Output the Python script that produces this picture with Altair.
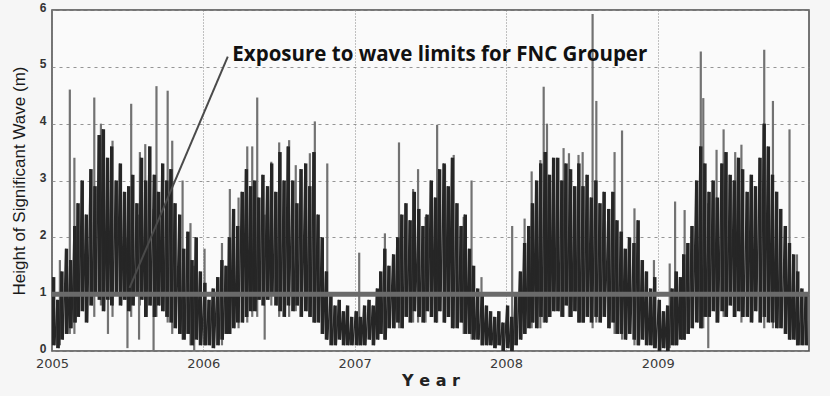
import altair as alt
import pandas as pd

# Significant wave height, 2005-2009: low/high envelope of the record for each ~10-day bin
# (three bins per month, twelve months per year)
bin_days = [5, 15, 25]

hi_2005 = [1.3, 0.9, 1.4, 1.8, 1.6, 2.2, 2.6, 3.0, 2.4, 3.2, 2.9, 3.8,
           3.9, 3.4, 3.6, 3.0, 3.3, 2.8, 2.9, 3.1, 2.6, 3.4, 3.0, 3.6,
           3.1, 2.8, 3.3, 3.0, 3.2, 2.6, 2.4, 1.8, 2.1, 1.6, 2.0, 1.4]
lo_2005 = [0.1, 0.05, 0.2, 0.3, 0.4, 0.5, 0.6, 0.7, 0.5, 0.8, 1.0, 0.9,
           0.7, 0.9, 0.8, 1.0, 0.8, 0.9, 0.7, 0.8, 1.0, 0.9, 0.6, 0.8,
           0.6, 0.8, 0.7, 0.6, 0.5, 0.4, 0.3, 0.2, 0.3, 0.1, 0.2, 0.1]

hi_2006 = [1.2, 0.9, 1.1, 1.3, 1.6, 1.5, 2.0, 2.5, 2.2, 2.8, 3.2, 2.9,
           3.0, 2.7, 3.1, 2.9, 3.3, 2.8, 3.5, 3.0, 3.6, 3.0, 2.6, 3.2,
           3.3, 2.9, 3.5, 2.4, 2.0, 1.4, 1.0, 0.8, 0.9, 0.7, 0.8, 0.6]
lo_2006 = [0.1, 0.1, 0.05, 0.1, 0.2, 0.3, 0.3, 0.4, 0.5, 0.5, 0.6, 0.7,
           0.7, 0.9, 0.8, 0.9, 1.0, 0.8, 0.7, 0.6, 0.8, 0.7, 0.8, 0.6,
           0.7, 0.6, 0.5, 0.5, 0.3, 0.2, 0.1, 0.1, 0.2, 0.1, 0.1, 0.1]

hi_2007 = [0.7, 0.6, 0.8, 0.9, 0.8, 1.1, 1.4, 1.8, 1.5, 1.7, 2.0, 2.4,
           2.6, 2.3, 2.8, 2.5, 2.2, 2.4, 3.0, 2.7, 3.2, 3.3, 2.9, 3.4,
           2.6, 2.2, 2.4, 1.8, 1.5, 1.1, 1.0, 0.8, 0.7, 0.6, 0.7, 0.5]
lo_2007 = [0.1, 0.1, 0.1, 0.2, 0.1, 0.2, 0.3, 0.2, 0.4, 0.4, 0.5, 0.4,
           0.6, 0.5, 0.7, 0.6, 0.5, 0.7, 0.6, 0.5, 0.7, 0.5, 0.6, 0.4,
           0.4, 0.5, 0.3, 0.3, 0.2, 0.2, 0.1, 0.1, 0.1, 0.05, 0.1, 0.0]

hi_2008 = [0.8, 0.6, 1.0, 1.4, 1.9, 2.2, 2.6, 3.0, 3.3, 3.5, 3.1, 3.4,
           3.4, 3.0, 3.3, 3.2, 2.9, 3.3, 2.9, 3.1, 2.7, 3.0, 2.6, 2.8,
           2.5, 2.8, 2.3, 2.1, 1.8, 2.0, 1.9, 2.3, 1.6, 1.4, 1.1, 1.3]
lo_2008 = [0.05, 0.0, 0.1, 0.2, 0.3, 0.4, 0.5, 0.4, 0.6, 0.5, 0.6, 0.7,
           0.7, 0.6, 0.8, 0.6, 0.7, 0.5, 0.5, 0.6, 0.5, 0.6, 0.5, 0.6,
           0.4, 0.5, 0.3, 0.3, 0.2, 0.3, 0.2, 0.1, 0.2, 0.1, 0.1, 0.05]

hi_2009 = [0.9, 0.7, 0.8, 1.1, 1.4, 1.3, 1.7, 1.9, 2.2, 3.0, 3.6, 3.3,
           2.8, 3.0, 2.7, 3.3, 3.5, 3.1, 3.0, 3.4, 3.2, 2.8, 3.1, 2.9,
           3.4, 4.0, 3.6, 3.1, 2.8, 2.5, 2.2, 1.9, 1.7, 1.4, 1.1, 1.0]
lo_2009 = [0.0, 0.05, 0.0, 0.1, 0.1, 0.2, 0.2, 0.3, 0.4, 0.5, 0.4, 0.6,
           0.6, 0.7, 0.5, 0.7, 0.6, 0.8, 0.6, 0.7, 0.6, 0.6, 0.5, 0.7,
           0.5, 0.6, 0.5, 0.5, 0.4, 0.4, 0.3, 0.2, 0.2, 0.1, 0.1, 0.1]

envelope = {
    2005: (lo_2005, hi_2005),
    2006: (lo_2006, hi_2006),
    2007: (lo_2007, hi_2007),
    2008: (lo_2008, hi_2008),
    2009: (lo_2009, hi_2009),
}

# Individual storm peaks (and calm troughs) that stand out from the envelope
spike_dates = [
    "2005-01-20", "2005-02-13", "2005-02-24", "2005-04-13", "2005-04-29", "2005-05-16",
    "2005-05-27", "2005-07-02", "2005-07-11", "2005-07-30", "2005-08-01", "2005-08-14",
    "2005-09-03", "2005-09-10", "2005-10-07", "2005-10-18", "2005-11-12", "2005-12-01",
    "2005-12-10", "2006-01-04", "2006-02-15", "2006-03-06", "2006-03-27", "2006-04-17",
    "2006-04-29", "2006-05-11", "2006-05-29", "2006-06-14", "2006-07-03", "2006-07-27",
    "2006-08-12", "2006-09-15", "2006-09-27", "2006-10-27", "2007-01-12", "2007-03-15",
    "2007-04-18", "2007-05-22", "2007-06-03", "2007-06-21", "2007-07-19", "2007-08-07",
    "2007-08-28", "2007-09-21", "2007-10-10", "2007-11-03", "2008-01-16", "2008-02-15",
    "2008-03-03", "2008-03-24", "2008-04-01", "2008-04-09", "2008-05-19", "2008-06-01",
    "2008-06-24", "2008-07-04", "2008-07-28", "2008-08-06", "2008-09-19", "2008-10-07",
    "2008-11-06", "2008-11-15", "2008-12-23", "2009-01-30", "2009-02-12", "2009-03-07",
    "2009-04-15", "2009-04-21", "2009-05-03", "2009-05-23", "2009-06-09", "2009-07-07",
    "2009-07-22", "2009-09-15", "2009-10-06", "2009-11-15", "2009-12-03",
]
spike_lo = [
    0.1, 0.3, 0.3, 0.6, 0.8, 0.3,
    0.6, 0.05, 0.6, 0.2, 0.8, 0.7,
    0.0, 0.6, 0.5, 0.3, 0.2, 0.1,
    0.0, 0.1, 0.1, 0.3, 0.4, 0.5,
    0.6, 0.6, 0.2, 0.8, 0.6, 0.6,
    0.7, 0.6, 0.5, 0.2, 0.1, 0.2,
    0.4, 0.5, 0.5, 0.5, 0.5, 0.5,
    0.4, 0.3, 0.2, 0.1, 0.05, 0.3,
    0.4, 0.4, 0.5, 0.5, 0.6, 0.6,
    0.5, 0.5, 0.4, 0.5, 0.3, 0.2,
    0.1, 0.1, 0.05, 0.05, 0.1, 0.2,
    0.4, 0.4, 0.05, 0.5, 0.6, 0.6,
    0.5, 0.4, 0.4, 0.2, 0.1,
]
spike_hi = [
    1.6, 4.6, 3.4, 4.46, 4.0, 2.5,
    3.7, 2.0, 4.35, 2.4, 3.5, 3.64,
    2.5, 4.66, 4.58, 3.7, 3.0, 2.25,
    1.5, 1.8, 1.9, 2.85, 2.7, 3.6,
    3.6, 4.46, 2.4, 3.33, 3.67, 3.71,
    3.27, 3.48, 4.04, 3.3, 1.73, 2.07,
    3.67, 2.85, 3.2, 2.36, 3.98, 3.27,
    3.45, 2.36, 3.0, 1.3, 2.2, 2.33,
    3.16, 3.36, 4.65, 4.0, 3.57, 3.48,
    3.45, 3.5, 5.93, 4.4, 3.5, 3.88,
    2.51, 2.0, 1.6, 1.54, 2.63, 2.48,
    5.27, 4.45, 2.6, 3.54, 3.9, 3.5,
    3.63, 5.3, 4.4, 3.9, 1.7,
]

year_ticks = [2005, 2006, 2007, 2008, 2009]
limit_height = 1.0
note_text = "Exposure to wave limits for FNC Grouper"
note_date = "2006-03-12"
note_value = 5.2
pointer_dates = ["2006-03-01", "2005-07-07"]
pointer_values = [5.18, 1.11]

# Each bin: a vertical stroke from low to high, plus a rise/fall trace through the bin
rows, trace = [], []
for year, (lo_vals, hi_vals) in envelope.items():
    for i, (lo, hi) in enumerate(zip(lo_vals, hi_vals)):
        month = i // 3 + 1
        day = bin_days[i % 3]
        rows.append({"date": f"{year}-{month:02d}-{day:02d}", "lo": lo, "hi": hi})
        trace.append({"date": f"{year}-{month:02d}-{day - 2:02d}", "value": hi})
        trace.append({"date": f"{year}-{month:02d}-{day + 3:02d}", "value": lo})
core_df = pd.DataFrame(rows)
trace_df = pd.DataFrame(trace)
spike_df = pd.DataFrame({"date": spike_dates, "lo": spike_lo, "hi": spike_hi})
note_df = pd.DataFrame({"date": [note_date], "value": [note_value], "label": [note_text]})
pointer_df = pd.DataFrame({"date": pointer_dates, "value": pointer_values})

x_scale = alt.Scale(domain=[alt.DateTime(year=2005, month=1, date=1),
                            alt.DateTime(year=2010, month=1, date=1)])
y_scale = alt.Scale(domain=[0, 6], nice=False)

x_axis = alt.Axis(
    values=[alt.DateTime(year=y, month=1, date=1) for y in year_ticks],
    format="%Y", title="Y  e  a  r", grid=True, gridDash=[1, 2], gridColor="#7a7a7a",
    gridOpacity=0.9, ticks=False, domain=False, labelFlush=False,
    labelFont="DejaVu Sans", labelFontSize=13, labelColor="#3a3a3a", labelPadding=6,
    titleFont="DejaVu Sans", titleFontSize=16, titleFontWeight="bold",
    titleColor="#222222", titlePadding=2,
)
y_axis = alt.Axis(
    values=[0, 1, 2, 3, 4, 5, 6], format="d", title="Height of Significant Wave  (m)",
    grid=True, gridDash=[3, 4], gridColor="#8a8a8a", gridOpacity=0.9, ticks=False,
    domain=False, labelFont="Liberation Sans", labelFontSize=12, labelFontWeight="bold",
    labelColor="#333333", labelPadding=6, labelOffset=-3, titleFont="Liberation Sans",
    titleFontSize=17, titleFontWeight="normal", titleColor="#1a1a1a", titlePadding=11,
)

spikes = alt.Chart(spike_df).mark_rule(color="#727272", strokeWidth=2.2).encode(
    x=alt.X("date:T", scale=x_scale, axis=x_axis),
    y=alt.Y("lo:Q", scale=y_scale, axis=y_axis),
    y2="hi:Q",
)
core = alt.Chart(core_df).mark_rule(color="#262626", strokeWidth=3.4).encode(
    x="date:T", y="lo:Q", y2="hi:Q",
)
core_trace = alt.Chart(trace_df).mark_line(color="#262626", strokeWidth=1.4).encode(
    x="date:T", y="value:Q",
)
limit = alt.Chart(pd.DataFrame({"value": [limit_height]})).mark_rule(
    color="#6a6a6a", strokeWidth=5
).encode(y="value:Q")
pointer = alt.Chart(pointer_df).mark_line(color="#4a4a4a", strokeWidth=2).encode(
    x="date:T", y="value:Q",
)
note = alt.Chart(note_df).mark_text(
    align="left", baseline="middle", font="Open Sans", fontSize=20.5, fontWeight="bold",
    color="#111111",
).encode(x="date:T", y="value:Q", text="label:N")

chart = (
    alt.layer(spikes, core, core_trace, limit, pointer, note)
    .properties(
        width=757, height=341, background="#f6f6f6",
        autosize=alt.AutoSizeParams(type="none"),
        padding={"left": 52, "top": 10, "right": 21, "bottom": 45},
    )
    .configure_view(stroke="#4a4a4a", strokeWidth=1.5, fill="#fafafa")
)

chart.save("out.html", embed_options={"renderer": "svg", "actions": False})
